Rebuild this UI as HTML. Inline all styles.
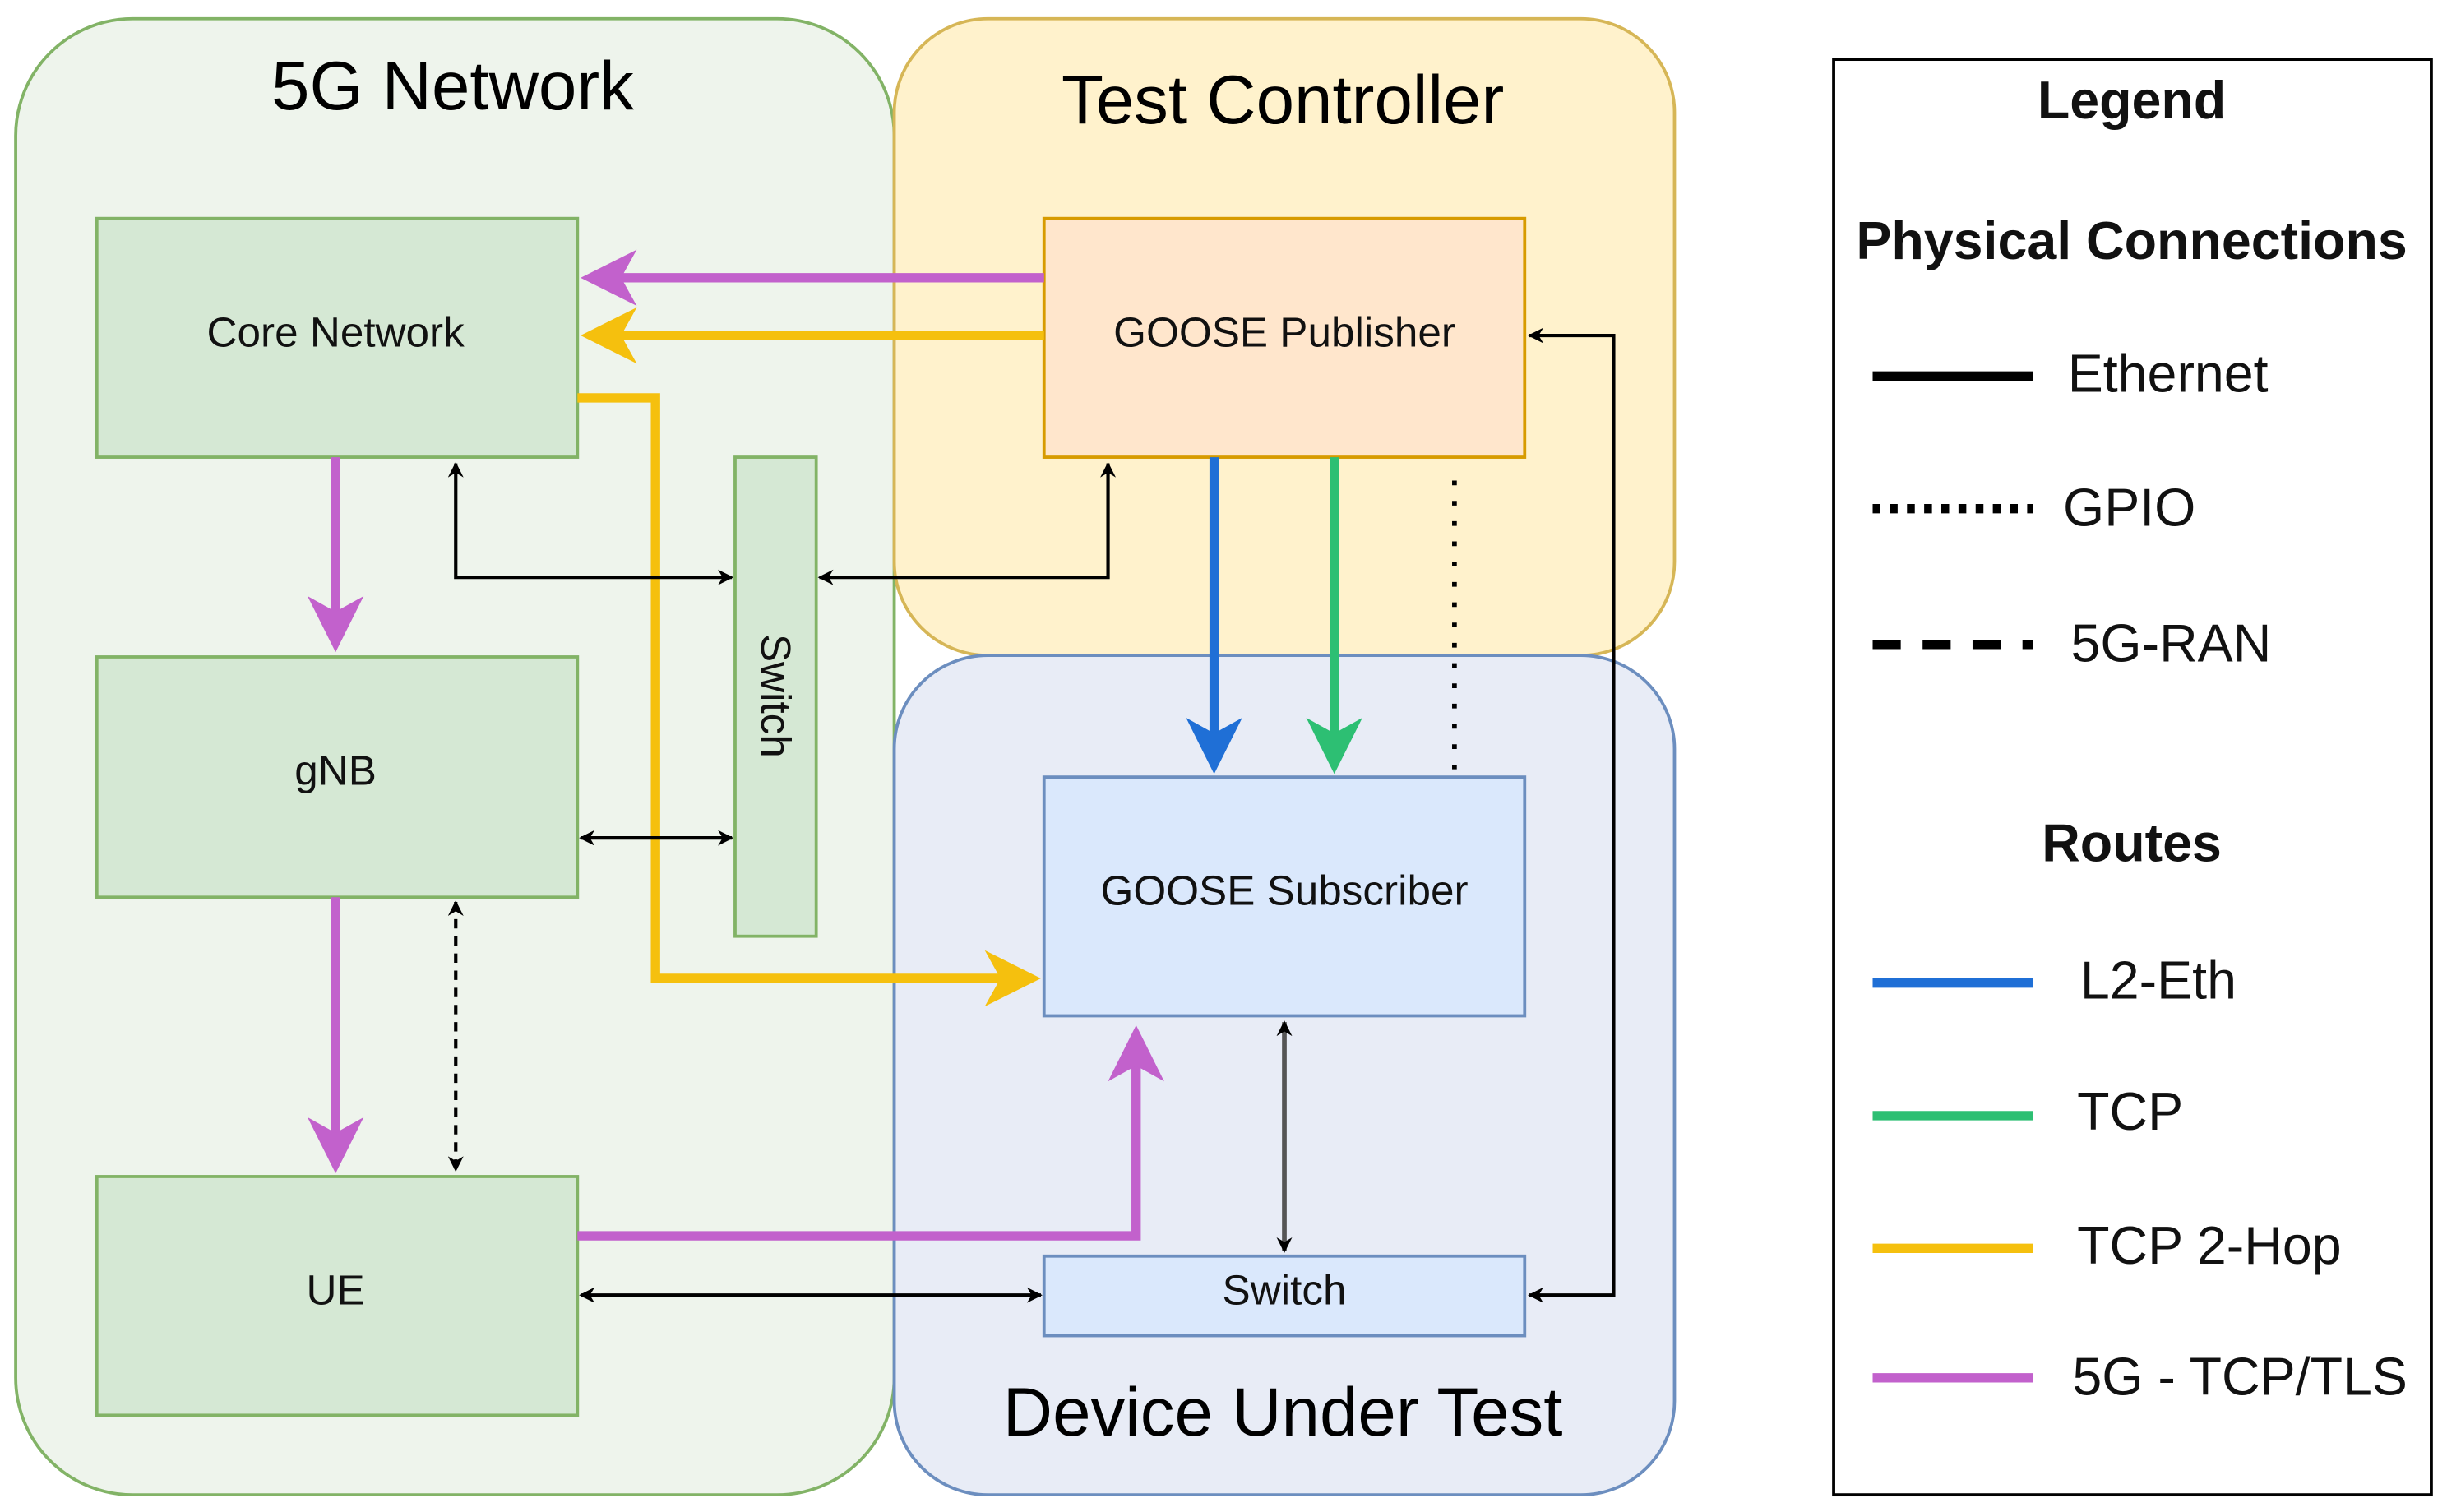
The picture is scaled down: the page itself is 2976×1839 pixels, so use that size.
<!DOCTYPE html>
<html><head><meta charset="utf-8"><style>html,body{margin:0;padding:0;background:#fff}svg{display:block}</style></head><body>
<svg width="2976" height="1839" viewBox="0 0 1568 969" xmlns="http://www.w3.org/2000/svg" font-family="Liberation Sans, sans-serif">
<defs>
<marker id="ak" markerWidth="10" markerHeight="10" refX="9" refY="5" orient="auto-start-reverse" markerUnits="userSpaceOnUse"><path d="M0,0 L10,5 L0,10 L3,5 Z" fill="#000"/></marker>
<marker id="ag" markerWidth="10" markerHeight="10" refX="9" refY="5" orient="auto-start-reverse" markerUnits="userSpaceOnUse"><path d="M0,0 L10,5 L0,10 L3,5 Z" fill="#000"/></marker>
</defs>
<!-- regions -->
<rect x="10" y="12" width="563" height="946" rx="75" fill="#eef4ec" stroke="#82b366" stroke-width="2"/>
<rect x="573" y="12" width="500" height="408" rx="60" fill="#fff2cc" stroke="#d6b656" stroke-width="2"/>
<rect x="573" y="420" width="500" height="538" rx="60" fill="#e8ecf6" stroke="#6c8ebf" stroke-width="2"/>
<text x="290" y="70" font-size="44" text-anchor="middle">5G Network</text>
<text x="822" y="79" font-size="44" text-anchor="middle">Test Controller</text>
<text x="822" y="920" font-size="44" text-anchor="middle">Device Under Test</text>
<!-- boxes -->
<g stroke-width="2">
<rect x="62" y="140" width="308" height="153" fill="#d5e8d4" stroke="#82b366"/>
<rect x="62" y="421" width="308" height="154" fill="#d5e8d4" stroke="#82b366"/>
<rect x="62" y="754" width="308" height="153" fill="#d5e8d4" stroke="#82b366"/>
<rect x="471" y="293" width="52" height="307" fill="#d5e8d4" stroke="#82b366"/>
<rect x="669" y="140" width="308" height="153" fill="#ffe6cc" stroke="#d79b00"/>
<rect x="669" y="498" width="308" height="153" fill="#dae8fc" stroke="#6c8ebf"/>
<rect x="669" y="805" width="308" height="51" fill="#dae8fc" stroke="#6c8ebf"/>
</g>
<g font-size="27" text-anchor="middle" fill="#111">
<text x="215" y="222">Core Network</text>
<text x="215" y="503">gNB</text>
<text x="215" y="836">UE</text>
<text x="823" y="222">GOOSE Publisher</text>
<text x="823" y="580">GOOSE Subscriber</text>
<text x="823" y="836">Switch</text>
<text transform="translate(488,446) rotate(90)" text-anchor="middle">Switch</text>
</g>
<!-- thick colored arrows -->
<g fill="none" stroke-width="6">
<path d="M669,178 H395" stroke="#c261cc"/>
<path d="M669,215 H395" stroke="#f5c00e"/>
<path d="M370,255 H420 V627 H645" stroke="#f5c00e"/>
<path d="M215,293 V395" stroke="#c261cc"/>
<path d="M215,575 V730" stroke="#c261cc"/>
<path d="M370,792 H728 V680" stroke="#c261cc"/>
<path d="M778,293 V472" stroke="#1f6fd6"/>
<path d="M855,293 V472" stroke="#2dbf73"/>
</g>
<g>
<path d="M372,178 L408,160 L398,178 L408,196 Z" fill="#c261cc"/>
<path d="M372,215 L408,197 L398,215 L408,233 Z" fill="#f5c00e"/>
<path d="M667,627 L631,609 L641,627 L631,645 Z" fill="#f5c00e"/>
<path d="M215,418 L197,382 L215,392 L233,382 Z" fill="#c261cc"/>
<path d="M215,752 L197,716 L215,726 L233,716 Z" fill="#c261cc"/>
<path d="M728,657 L710,693 L728,683 L746,693 Z" fill="#c261cc"/>
<path d="M778,496 L760,460 L778,470 L796,460 Z" fill="#1f6fd6"/>
<path d="M855,496 L837,460 L855,470 L873,460 Z" fill="#2dbf73"/>
</g>
<!-- thin black -->
<g fill="none" stroke="#000" stroke-width="2.2">
<path d="M292,297 V370 H469" marker-start="url(#ak)" marker-end="url(#ak)"/>
<path d="M525,370 H710 V297" marker-start="url(#ak)" marker-end="url(#ak)"/>
<path d="M372,537 H469" marker-start="url(#ak)" marker-end="url(#ak)"/>
<path d="M292,578 V750" stroke-dasharray="6,5" marker-start="url(#ak)" marker-end="url(#ak)"/>
<path d="M372,830 H667" marker-start="url(#ak)" marker-end="url(#ak)"/>
<path d="M980,215 H1034 V830 H980" marker-start="url(#ak)" marker-end="url(#ak)"/>
<path d="M823,655 V802" stroke="#555" stroke-width="3" marker-start="url(#ak)" marker-end="url(#ak)"/>
<path d="M932,308 V497" stroke-width="3" stroke-dasharray="3,10"/>
</g>
<!-- legend -->
<rect x="1175" y="38" width="383" height="920" fill="#fff" stroke="#000" stroke-width="2"/>
<g font-size="34" fill="#111">
<text x="1366" y="76" text-anchor="middle" font-weight="bold">Legend</text>
<text x="1366" y="166" text-anchor="middle" font-weight="bold">Physical Connections</text>
<text x="1366" y="552" text-anchor="middle" font-weight="bold">Routes</text>
<text x="1325" y="251">Ethernet</text>
<text x="1322" y="337">GPIO</text>
<text x="1327" y="424">5G-RAN</text>
<text x="1333" y="640">L2-Eth</text>
<text x="1331" y="724">TCP</text>
<text x="1331" y="810">TCP 2-Hop</text>
<text x="1328" y="894">5G - TCP/TLS</text>
</g>
<g fill="none" stroke-width="6">
<path d="M1200,241 H1303" stroke="#000"/>
<path d="M1200,326 H1303" stroke="#000" stroke-dasharray="5,6"/>
<path d="M1200,413 H1303" stroke="#000" stroke-dasharray="18,14"/>
<path d="M1200,630 H1303" stroke="#1f6fd6"/>
<path d="M1200,715 H1303" stroke="#2dbf73"/>
<path d="M1200,800 H1303" stroke="#f5c00e"/>
<path d="M1200,883 H1303" stroke="#c261cc"/>
</g>
</svg>
</body></html>
